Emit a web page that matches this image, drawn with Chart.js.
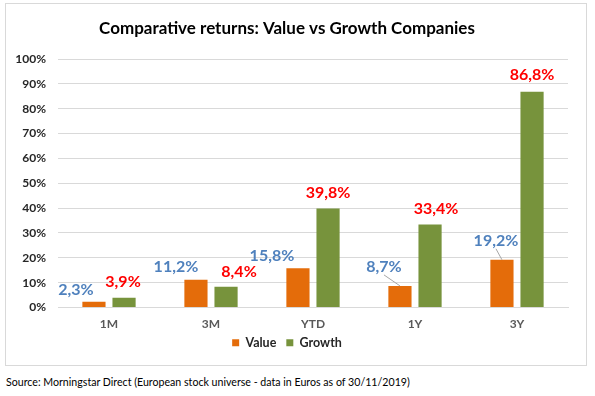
<!DOCTYPE html>
<html>
<head>
<meta charset="utf-8">
<script src="https://cdn.jsdelivr.net/npm/chart.js@4/dist/chart.umd.min.js"></script>
<style>
  body { margin: 0; background: #fff; width: 595px; height: 396px; position: relative; overflow: hidden; }
  #box { position: absolute; left: 5px; top: 3px; width: 580px; height: 361px; border: 1px solid #d9d9d9; }
  #source { position: absolute; left: 6px; top: 374px; font: 12px Lato, sans-serif; color: #000; white-space: nowrap;
            transform: scaleX(0.885); transform-origin: left top; }
</style>
</head>
<body>
<div id="box"><canvas id="chart" width="580" height="361"></canvas></div>
<div id="source">Source: Morningstar Direct (European stock universe - data in Euros as of 30/11/2019)</div>
<script>
	//카테고리 / 시리즈 값
	var categories = ['1M', '3M', 'YTD', '1Y', '3Y'];
	var valueReturns = [2.3, 11.2, 15.8, 8.7, 19.2];
	var growthReturns = [3.9, 8.4, 39.8, 33.4, 86.8];
	var yTicks = [0, 10, 20, 30, 40, 50, 60, 70, 80, 90, 100];

	//라벨 위치 보정 (스타일)
	var labelNudge = [
		[[-18, -12], [-20, -13], [-26, -12], [-16, -19], [-6, -19]],
		[[-1, -16], [13, -15], [0, -16], [6, -16], [0, -17]]
	];
	var labelColors = ['#4F81BD', '#FF0000'];
	var leaderLines = [[false, false, false, true, true], [false, false, false, false, false]];

	function fmt(v) {
		return v.toFixed(1).replace('.', ',') + '%';
	}

	var barLabels = {
		id: 'barLabels',
		afterDatasetsDraw: function(chart) {
			var ctx = chart.ctx;
			chart.data.datasets.forEach(function(ds, di) {
				var meta = chart.getDatasetMeta(di);
				meta.data.forEach(function(bar, i) {
					var n = labelNudge[di][i];
					var lx = bar.x + n[0];
					var ly = bar.y + n[1];
					ctx.save();
					if (leaderLines[di][i]) {
						ctx.strokeStyle = '#a6a6a6';
						ctx.lineWidth = 1;
						ctx.beginPath();
						ctx.moveTo(lx, ly + 8);
						ctx.lineTo(bar.x, bar.y);
						ctx.stroke();
					}
					ctx.font = 'bold 16px Lato, sans-serif';
					ctx.fillStyle = labelColors[di];
					ctx.textAlign = 'center';
					ctx.textBaseline = 'middle';
					ctx.fillText(fmt(ds.data[i]), lx, ly);
					ctx.restore();
				});
			});
		}
	};

	//범례를 조금 위로
	var legendShift = {
		id: 'legendShift',
		afterLayout: function(chart) {
			chart.legend.top -= 6;
			chart.legend.bottom -= 6;
		}
	};

	var data = {
		labels: categories,
		datasets: [{
			label: 'Value',
			data: valueReturns,
			backgroundColor: '#E46C0A',
			categoryPercentage: 0.59,
			barPercentage: 0.77
		}, {
			label: 'Growth',
			data: growthReturns,
			backgroundColor: '#77933C',
			categoryPercentage: 0.59,
			barPercentage: 0.77
		}]
	};

	var config = {
		type: 'bar',
		data: data,
		plugins: [barLabels, legendShift],
		options: {
			responsive: false,
			animation: false,
			layout: { padding: { left: 0, right: 18, top: 0, bottom: 0 } },
			scales: {
				x: {
					grid: { display: false, drawTicks: false },
					border: { color: '#d9d9d9' },
					ticks: { color: '#595959', font: { family: 'Lato', size: 12, weight: 'bold' }, padding: 9 },
					afterFit: function(scale) { scale.height = 25; }
				},
				y: {
					min: 0,
					max: 100,
					afterBuildTicks: function(scale) {
						scale.ticks = yTicks.map(function(v) { return { value: v }; });
					},
					grid: { color: '#d9d9d9', drawTicks: false },
					border: { display: false },
					ticks: {
						color: '#262626',
						font: { family: 'Lato', size: 12, weight: 'bold' },
						padding: 12,
						callback: function(v) { return v + '%'; }
					},
					afterFit: function(scale) { scale.width = 52; }
				}
			},
			plugins: {
				title: {
					display: true,
					text: 'Comparative returns: Value vs Growth Companies',
					color: '#000',
					font: { family: 'Lato', size: 17, weight: 'bold' },
					padding: { top: 14, bottom: 20.6 }
				},
				legend: {
					position: 'bottom',
					labels: {
						color: '#262626',
						font: { family: 'Lato', size: 12.5, weight: 'bold' },
						boxWidth: 7,
						boxHeight: 7,
						padding: 10
					}
				},
				tooltip: { enabled: false }
			}
		}
	};

	var ctx1 = document.getElementById('chart').getContext('2d');
	new Chart(ctx1, config);
</script>
</body>
</html>
